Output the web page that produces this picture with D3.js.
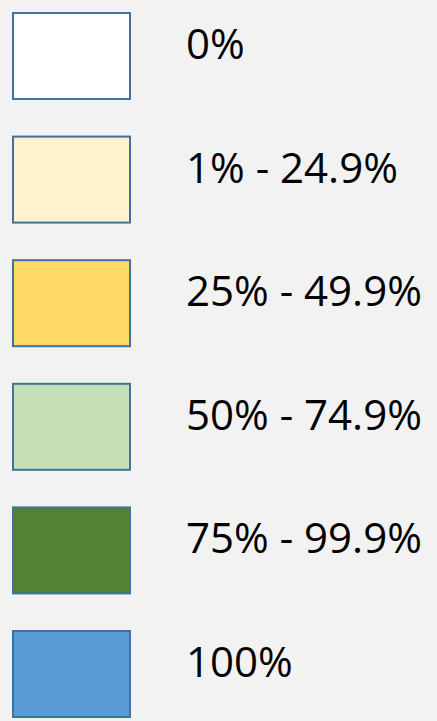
<!DOCTYPE html>
<html>
<head>
<meta charset="utf-8">
<script src="https://cdn.jsdelivr.net/npm/d3@7"></script>
<style>
    html, body { margin: 0; padding: 0; background: #f2f2f2; }
    svg { display: block; }
    .label { font-family: "Open Sans", sans-serif; font-size: 42px; fill: #000; }
</style>
</head>
<body>
<div id="legend"></div>
<script>
var WIDTH = 437,
    HEIGHT = 721;

var BOX_X = 13,
    BOX_W = 117,
    BOX_H = 86,
    TEXT_X = 186,
    BASELINE = 46;

// legend entries
var labels = ["0%", "1% - 24.9%", "25% - 49.9%", "50% - 74.9%", "75% - 99.9%", "100%"];
var fills = ["#ffffff", "#fff2cc", "#ffd966", "#c5e0b4", "#548235", "#5b9bd5"];

var svg = d3.select("#legend")
    .append("svg")
    .attr("width", WIDTH)
    .attr("height", HEIGHT);

var y = d3.scalePoint()
    .domain(labels)
    .range([13, 631]);

var colour = d3.scaleOrdinal()
    .domain(labels)
    .range(fills);

var item = svg.selectAll(".item")
    .data(labels)
    .enter()
    .append("g")
    .attr("class", "item")
    .attr("transform", function (d) {
        return "translate(0," + y(d) + ")";
    });

item.append("rect")
    .attr("x", BOX_X)
    .attr("y", 0)
    .attr("width", BOX_W)
    .attr("height", BOX_H)
    .attr("fill", function (d) { return colour(d); })
    .attr("stroke", "#41719c")
    .attr("stroke-width", 2);

item.append("text")
    .attr("class", "label")
    .attr("x", TEXT_X)
    .attr("y", BASELINE)
    .text(function (d) { return d; });
</script>
</body>
</html>
